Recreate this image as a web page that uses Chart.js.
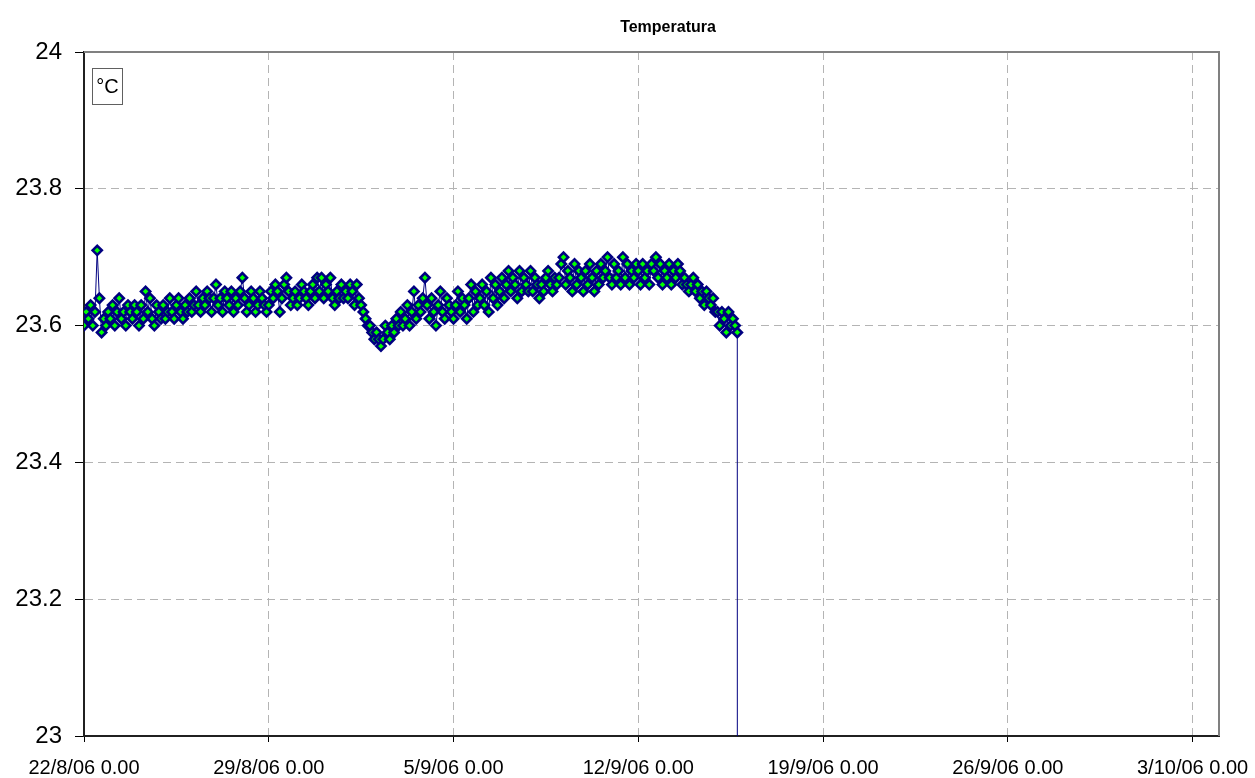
<!DOCTYPE html>
<html>
<head>
<meta charset="utf-8">
<title>Temperatura</title>
<script src="https://cdn.jsdelivr.net/npm/chart.js@4.4.0/dist/chart.umd.min.js"></script>
<style>
  html, body { margin: 0; padding: 0; background: #ffffff; }
  #wrap { width: 1255px; height: 778px; }
</style>
</head>
<body>
<div id="wrap"><canvas id="chart" width="1255" height="778"></canvas></div>
<script>
// Logger readings, one row per day starting 22/8/06 0.00, one reading every 2 hours
const stepHours = 2;
const day00 = [23.60, 23.62, 23.61, 23.63, 23.60, 23.62, 23.71, 23.64, 23.59, 23.61, 23.60, 23.62];
const day01 = [23.61, 23.63, 23.60, 23.62, 23.64, 23.61, 23.62, 23.60, 23.63, 23.62, 23.61, 23.63];
const day02 = [23.62, 23.60, 23.63, 23.61, 23.65, 23.62, 23.64, 23.61, 23.60, 23.63, 23.62, 23.61];
const day03 = [23.63, 23.61, 23.62, 23.64, 23.62, 23.61, 23.63, 23.64, 23.62, 23.61, 23.63, 23.62];
const day04 = [23.64, 23.62, 23.63, 23.65, 23.63, 23.62, 23.64, 23.63, 23.65, 23.64, 23.62, 23.64];
const day05 = [23.66, 23.63, 23.64, 23.62, 23.65, 23.64, 23.63, 23.65, 23.62, 23.64, 23.63, 23.65];
const day06 = [23.67, 23.64, 23.62, 23.63, 23.65, 23.64, 23.62, 23.63, 23.65, 23.64, 23.63, 23.62];
const day07 = [23.63, 23.65, 23.64, 23.66, 23.65, 23.62, 23.64, 23.66, 23.67, 23.65, 23.63, 23.64];
const day08 = [23.65, 23.63, 23.64, 23.66, 23.65, 23.64, 23.63, 23.65, 23.66, 23.64, 23.67, 23.65];
const day09 = [23.67, 23.64, 23.66, 23.65, 23.67, 23.64, 23.63, 23.65, 23.64, 23.66, 23.64, 23.65];
const day10 = [23.64, 23.66, 23.65, 23.63, 23.66, 23.64, 23.63, 23.62, 23.61, 23.60, 23.60, 23.59];
const day11 = [23.58, 23.59, 23.58, 23.57, 23.58, 23.60, 23.59, 23.58, 23.60, 23.59, 23.61, 23.60];
const day12 = [23.62, 23.60, 23.61, 23.63, 23.60, 23.62, 23.65, 23.61, 23.63, 23.62, 23.64, 23.67];
const day13 = [23.63, 23.61, 23.64, 23.62, 23.60, 23.63, 23.65, 23.62, 23.61, 23.64, 23.63, 23.62];
const day14 = [23.61, 23.63, 23.65, 23.62, 23.64, 23.63, 23.61, 23.64, 23.66, 23.62, 23.65, 23.63];
const day15 = [23.64, 23.66, 23.63, 23.65, 23.62, 23.67, 23.64, 23.66, 23.63, 23.65, 23.67, 23.64];
const day16 = [23.66, 23.68, 23.65, 23.67, 23.66, 23.64, 23.68, 23.65, 23.67, 23.66, 23.65, 23.68];
const day17 = [23.65, 23.67, 23.66, 23.64, 23.66, 23.65, 23.67, 23.68, 23.66, 23.65, 23.67, 23.66];
const day18 = [23.67, 23.69, 23.70, 23.66, 23.68, 23.67, 23.65, 23.69, 23.66, 23.68, 23.67, 23.65];
const day19 = [23.68, 23.66, 23.69, 23.67, 23.65, 23.68, 23.66, 23.69, 23.67, 23.68, 23.70, 23.67];
const day20 = [23.66, 23.69, 23.67, 23.68, 23.66, 23.70, 23.67, 23.69, 23.66, 23.68, 23.67, 23.69];
const day21 = [23.68, 23.66, 23.69, 23.67, 23.68, 23.66, 23.69, 23.68, 23.70, 23.67, 23.69, 23.66];
const day22 = [23.68, 23.67, 23.69, 23.66, 23.68, 23.67, 23.69, 23.68, 23.66, 23.67, 23.66, 23.65];
const day23 = [23.66, 23.67, 23.65, 23.66, 23.64, 23.65, 23.63, 23.65, 23.64, 23.63, 23.64, 23.62];
// last day: logger stops, final reading drops off the scale
const day24 = [23.62, 23.60, 23.62, 23.61, 23.59, 23.62, 23.60, 23.61, 23.60, 23.59, 0];

const xTickLabels = ['22/8/06 0.00', '29/8/06 0.00', '5/9/06 0.00', '12/9/06 0.00',
                     '19/9/06 0.00', '26/9/06 0.00', '3/10/06 0.00'];
const yTicks = [23, 23.2, 23.4, 23.6, 23.8, 24];

const days = [day00, day01, day02, day03, day04, day05, day06, day07, day08, day09,
              day10, day11, day12, day13, day14, day15, day16, day17, day18, day19,
              day20, day21, day22, day23, day24];

const points = [];
days.forEach((row, d) => {
  row.forEach((v, k) => points.push({ x: d + k * stepHours / 24, y: v }));
});

const FONT = "'Liberation Sans', Arial, sans-serif";

// frame, title and unit box like the spreadsheet chart
const decorations = {
  id: 'decorations',
  afterDraw(chart) {
    const { ctx, chartArea: a } = chart;
    ctx.save();
    ctx.strokeStyle = '#808080';
    ctx.lineWidth = 2;
    ctx.beginPath();
    ctx.moveTo(a.left, a.top);
    ctx.lineTo(a.right, a.top);
    ctx.lineTo(a.right, a.bottom);
    ctx.stroke();

    ctx.fillStyle = '#000';
    ctx.font = 'bold 16px ' + FONT;
    ctx.textAlign = 'center';
    ctx.textBaseline = 'middle';
    ctx.fillText('Temperatura', 668, 28);

    ctx.fillStyle = '#fff';
    ctx.fillRect(92, 68, 30, 36);
    ctx.strokeStyle = '#606060';
    ctx.lineWidth = 1;
    ctx.strokeRect(92.5, 68.5, 30, 36);
    ctx.fillStyle = '#000';
    ctx.font = '20px ' + FONT;
    ctx.fillText('°C', 107.5, 87);
    ctx.restore();
  }
};

new Chart(document.getElementById('chart').getContext('2d'), {
  type: 'line',
  data: {
    datasets: [{
      label: 'Temperatura',
      data: points,
      borderColor: '#000080',
      borderWidth: 1,
      tension: 0,
      pointStyle: 'rectRot',
      pointRadius: 4.6,
      pointBorderWidth: 2.6,
      pointBorderColor: '#000080',
      pointBackgroundColor: '#00ff00'
    }]
  },
  options: {
    responsive: false,
    animation: false,
    events: [],
    layout: { padding: { top: 52, right: 36, left: 0, bottom: 0 } },
    plugins: {
      legend: { display: false },
      title: { display: false },
      tooltip: { enabled: false }
    },
    scales: {
      x: {
        type: 'linear',
        min: 0,
        max: 43,
        afterFit: s => { s.height = 42; s.paddingLeft = 0; s.paddingRight = 0; },
        afterBuildTicks: s => { s.ticks = xTickLabels.map((_, i) => ({ value: i * 7 })); },
        grid: { color: '#b4b4b4', lineWidth: 1, tickLength: 6, tickColor: '#000' },
        border: { color: '#202020', width: 2, dash: [8, 5] },
        ticks: {
          color: '#000',
          font: { family: FONT, size: 20 },
          padding: 14,
          maxRotation: 0,
          autoSkip: false,
          callback: v => xTickLabels[Math.round(v / 7)]
        }
      },
      y: {
        min: 23,
        max: 24,
        afterFit: s => { s.width = 84; s.paddingTop = 0; s.paddingBottom = 0; },
        afterBuildTicks: s => { s.ticks = yTicks.map(v => ({ value: v })); },
        grid: { color: '#b4b4b4', lineWidth: 1, tickLength: 9, tickColor: '#000' },
        border: { color: '#202020', width: 2, dash: [8, 5] },
        ticks: {
          color: '#000',
          font: { family: FONT, size: 24 },
          padding: 13,
          callback: v => String(Math.round(v * 10) / 10)
        }
      }
    }
  },
  plugins: [decorations]
});
</script>
</body>
</html>
